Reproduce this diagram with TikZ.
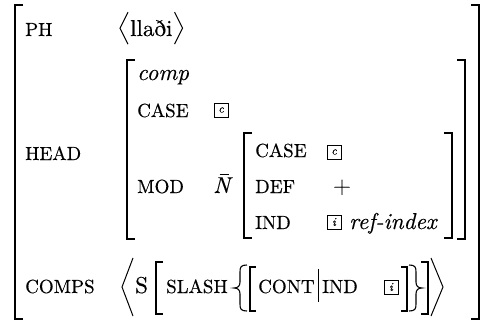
\documentclass[tikz,border=0pt]{standalone}
\usepackage{fontspec}
\setmainfont{lmroman10-regular.otf}[ItalicFont=lmroman10-italic.otf,
  BoldFont=lmroman10-bold.otf, FakeBold=0.3]
\usetikzlibrary{calc}
\begin{document}
\begin{tikzpicture}[x=1pt,y=-1pt,
  base/.style={anchor=base west, inner sep=0pt, font=\fontsize{23}{27}\selectfont},
  lab/.style={base, font=\fontsize{19}{22}\selectfont},
  ital/.style={base, font=\fontsize{23}{27}\selectfont\itshape},
  brk/.style={line width=1.4pt},
  ang/.style={line width=1pt, line join=miter},
  brc/.style={line width=1.1pt},
  tagbox/.style={draw, line width=0.6pt, inner sep=0pt, minimum size=14pt, font=\fontsize{12}{12}\selectfont\itshape}]
\useasboundingbox (0,0) rectangle (483,322);
% outer brackets
\draw[brk] (23,5) -- (15,5) -- (15,319) -- (23,319);
\draw[brk] (471,5) -- (479,5) -- (479,319) -- (471,319);
% PH row
\node[lab] (ph) at (25,36) {PH};
\node[base] (phon) at (130,36) {llaði};
\draw[ang] ($(phon.west)+(-2,-16)$) -- ($(phon.west)+(-10,0)$) -- ($(phon.west)+(-2,16)$);
\draw[ang] ($(phon.east)+(2,-16)$) -- ($(phon.east)+(10,0)$) -- ($(phon.east)+(2,16)$);
% HEAD
\node[lab] (head) at (25,160) {HEAD};
\draw[brk] (135,60) -- (127,60) -- (127,239) -- (135,239);
\draw[brk] (457,60) -- (465,60) -- (465,239) -- (457,239);
\node[ital] (comp) at (137,80) {comp};
\node[lab] (case1) at (137,117) {CASE};
\node[tagbox] (c1) at (221,110) {c};
\node[lab] (mod) at (137,193) {MOD};
\node[ital] (nbar) at (213,193) {N};
\draw[line width=0.9pt] ($(nbar.north)+(-2,-3)$) -- ++(9,0);
% MOD value
\draw[brk] (252,133) -- (244,133) -- (244,238) -- (252,238);
\draw[brk] (444,133) -- (452,133) -- (452,238) -- (444,238);
\node[lab] (case2) at (255,157) {CASE};
\node[tagbox] (c2) at (334,152) {c};
\node[lab] (def) at (255,193) {DEF};
\node[base, anchor=base] (plus) at (342,193) {+};
\node[lab] (ind1) at (255,229) {IND};
\node[tagbox] (i1) at (334,222) {i};
\node[ital] (ref) at (349,229) {ref-index};
% COMPS row
\node[lab] (comps) at (25,293) {COMPS};
\draw[ang] (133,258) -- (122,287) -- (133,316);
\node[base] (s) at (135,293) {S};
\draw[brk] (163,262) -- (156,262) -- (156,314) -- (163,314);
\node[lab] (slash) at (166,293) {SLASH};
\draw[brc] (247,265) .. controls (241,265) and (240,267) .. (240,272) -- (240,282) .. controls (240,286) and (238,288) .. (234,288) .. controls (238,288) and (240,290) .. (240,294) -- (240,304) .. controls (240,309) and (241,311) .. (247,311);
\draw[brk] (256,267) -- (250,267) -- (250,311) -- (256,311);
\node[lab] (cont) at (258,293) {CONT};
\draw[line width=0.8pt] (318,269) -- (318,302);
\node[lab] (ind2) at (322,293) {IND};
\node[tagbox] (i2) at (391,287) {i};
\draw[brk] (401,267) -- (407,267) -- (407,311) -- (401,311);
\draw[brc] (409,265) .. controls (415,265) and (416,267) .. (416,272) -- (416,282) .. controls (416,286) and (418,288) .. (422,288) .. controls (418,288) and (416,290) .. (416,294) -- (416,304) .. controls (416,309) and (415,311) .. (409,311);
\draw[brk] (421,262) -- (428,262) -- (428,314) -- (421,314);
\draw[ang] (431,258) -- (443,287) -- (431,316);
\end{tikzpicture}
\end{document}
